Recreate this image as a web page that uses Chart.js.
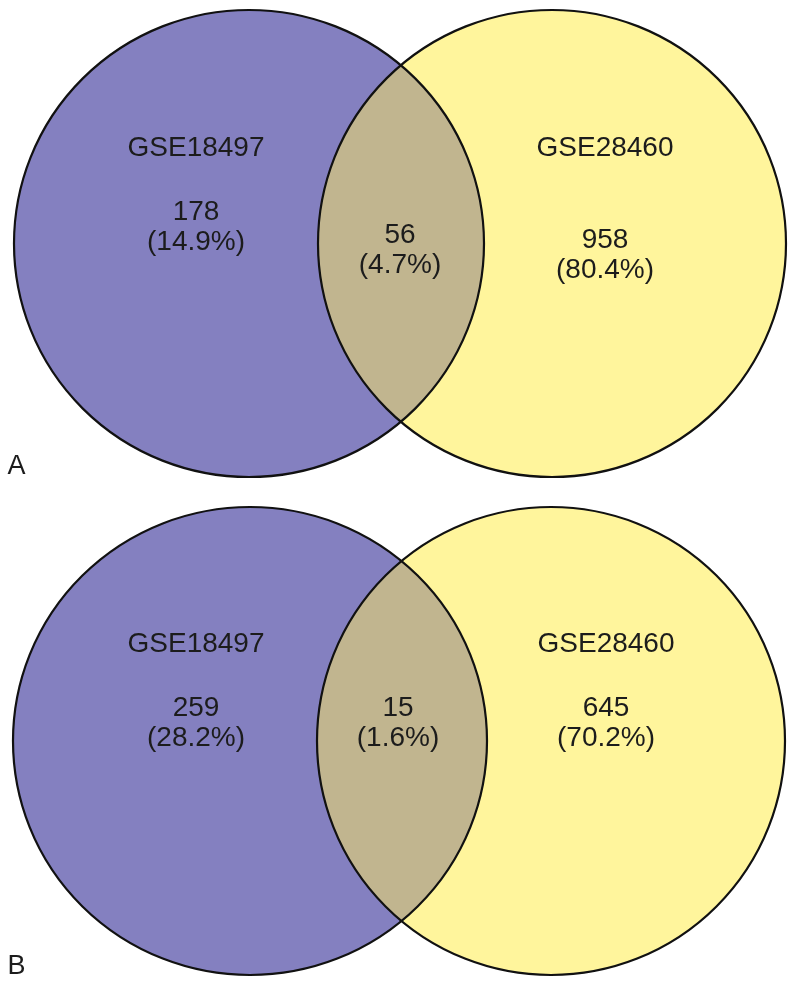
<!DOCTYPE html>
<html>
<head>
<meta charset="utf-8">
<script src="https://cdn.jsdelivr.net/npm/chart.js@4/dist/chart.umd.min.js"></script>
<style>
  html, body { margin: 0; padding: 0; background: #ffffff; }
  #wrap { width: 800px; height: 989px; position: relative; }
</style>
</head>
<body>
<div id="wrap"><canvas id="c" width="800" height="989"></canvas></div>
<script>
// ---- data ----
const panelLabels = ["A", "B"];
const setNames = ["GSE18497", "GSE28460"];
const onlyLeft = [178, 259];
const overlap = [56, 15];
const onlyRight = [958, 645];
const percentLeft = ["14.9%", "28.2%"];
const percentOverlap = ["4.7%", "1.6%"];
const percentRight = ["80.4%", "70.2%"];

// ---- layout (data-space units of the chart scales) ----
const layout = {
  panelCy: [243.5, 741],
  leftCx: [249, 250], leftRx: [235, 237],
  rightCx: [552, 551], rightRx: [234, 234],
  ry: [233.5, 234],
  nameY: [148, 644],
  countY: [[212, 240, 235], [708, 708, 708]],
  lineGap: 30,
  leftTextX: [196, 196], midTextX: [400, 398], rightTextX: [605, 606],
  panelLetter: { x: 16.5, y: [467, 967] }
};
const colors = { left: "#8480C0", right: "#FFF59C", both: "#C1B58F", stroke: "#111111", text: "#1c1c1c" };

const vennPlugin = {
  id: "venn",
  beforeDatasetsDraw(chart) {
    const ctx = chart.ctx, xs = chart.scales.x, ys = chart.scales.y;
    const X = v => xs.getPixelForValue(v), Y = v => ys.getPixelForValue(v);
    const sx = (X(1) - X(0)), sy = Math.abs(Y(1) - Y(0));
    panelLabels.forEach((p, i) => {
      const cy = Y(layout.panelCy[i]);
      const L = { x: X(layout.leftCx[i]), rx: layout.leftRx[i] * sx, ry: layout.ry[i] * sy };
      const R = { x: X(layout.rightCx[i]), rx: layout.rightRx[i] * sx, ry: layout.ry[i] * sy };
      const path = (e) => { ctx.beginPath(); ctx.ellipse(e.x, cy, e.rx, e.ry, 0, 0, Math.PI * 2); };
      ctx.save();
      path(L); ctx.fillStyle = colors.left; ctx.fill();
      path(R); ctx.fillStyle = colors.right; ctx.fill();
      ctx.save(); path(L); ctx.clip(); path(R); ctx.fillStyle = colors.both; ctx.fill(); ctx.restore();
      ctx.lineWidth = 2.2; ctx.strokeStyle = colors.stroke;
      path(L); ctx.stroke();
      path(R); ctx.stroke();
      // texts
      ctx.fillStyle = colors.text;
      ctx.textAlign = "center"; ctx.textBaseline = "middle";
      ctx.font = "28px 'Liberation Sans', Arial, sans-serif";
      ctx.fillText(setNames[0], X(layout.leftTextX[i]), Y(layout.nameY[i]));
      ctx.fillText(setNames[1], X(layout.rightTextX[i]), Y(layout.nameY[i]));
      const cyL = layout.countY[i];
      const g = layout.lineGap;
      ctx.fillText(String(onlyLeft[i]), X(layout.leftTextX[i]), Y(cyL[0]));
      ctx.fillText("(" + percentLeft[i] + ")", X(layout.leftTextX[i]), Y(cyL[0] + g));
      ctx.fillText(String(onlyRight[i]), X(layout.rightTextX[i]), Y(cyL[1]));
      ctx.fillText("(" + percentRight[i] + ")", X(layout.rightTextX[i]), Y(cyL[1] + g));
      ctx.fillText(String(overlap[i]), X(layout.midTextX[i]), Y(cyL[2]));
      ctx.fillText("(" + percentOverlap[i] + ")", X(layout.midTextX[i]), Y(cyL[2] + g));
      ctx.font = "27px 'Liberation Sans', Arial, sans-serif";
      ctx.fillText(p, X(layout.panelLetter.x), Y(layout.panelLetter.y[i]));
      ctx.restore();
    });
  }
};

new Chart(document.getElementById("c"), {
  type: "scatter",
  data: { datasets: [{ data: [], pointRadius: 0 }] },
  options: {
    responsive: false,
    animation: false,
    layout: { padding: 0 },
    plugins: { legend: { display: false }, tooltip: { enabled: false } },
    scales: {
      x: { type: "linear", min: 0, max: 800, display: false },
      y: { type: "linear", min: 0, max: 989, reverse: true, display: false }
    }
  },
  plugins: [vennPlugin]
});
</script>
</body>
</html>
